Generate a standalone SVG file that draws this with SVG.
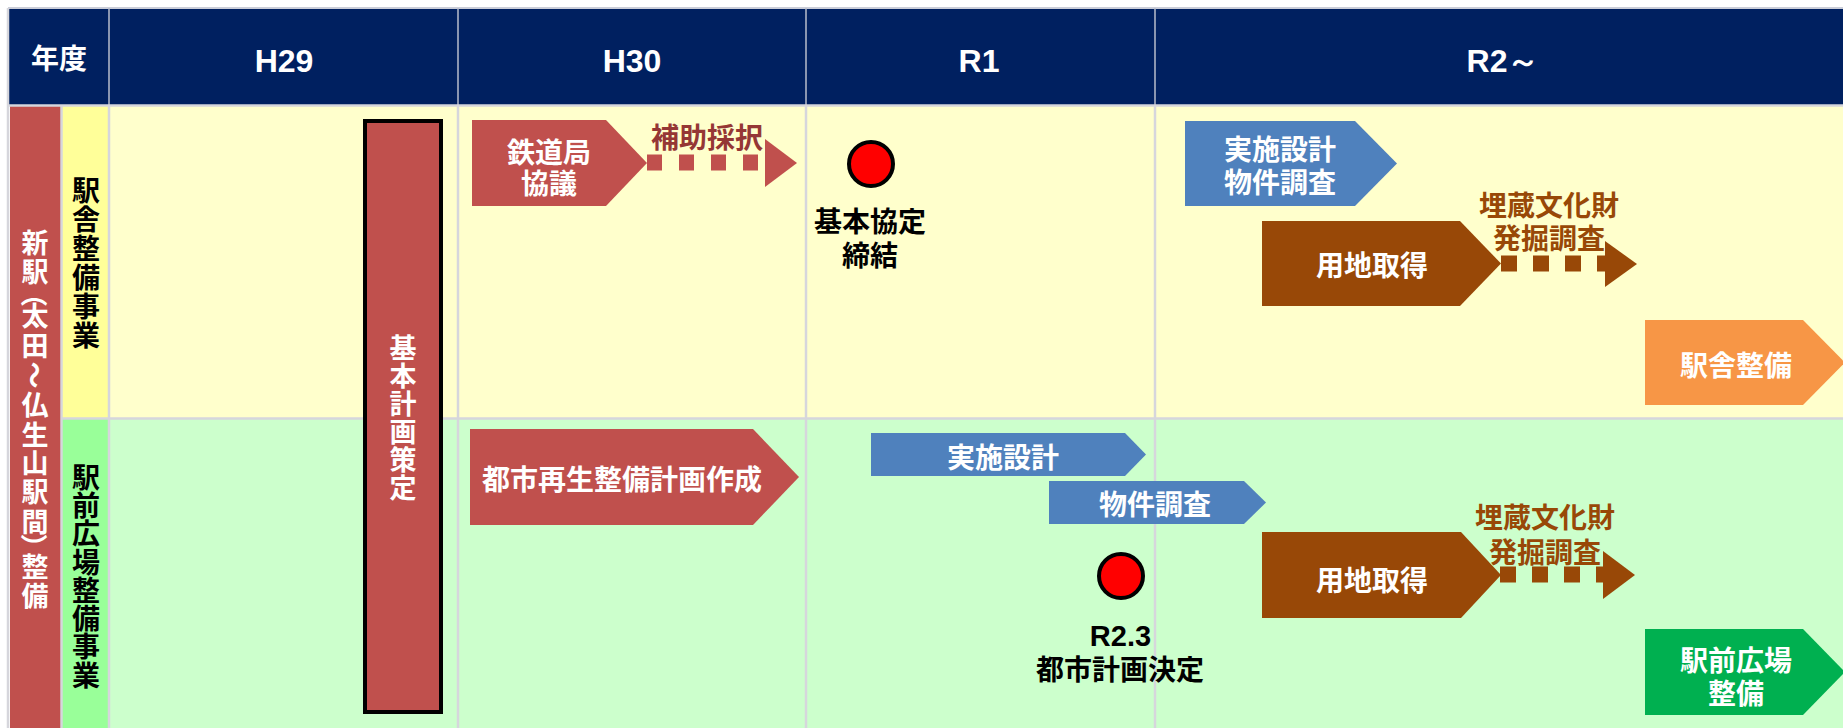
<svg xmlns="http://www.w3.org/2000/svg" width="1843" height="728" viewBox="0 0 1843 728">
<style>
.jp{font-family:"Noto Sans CJK JP","Noto Sans CJK SC",sans-serif;font-weight:bold;font-size:28px;text-anchor:middle}
.lat{font-family:"Liberation Sans",Arial,sans-serif;font-size:32px;font-weight:bold;text-anchor:middle;fill:#fff}
.vt{font-family:"Noto Sans CJK JP","Noto Sans CJK SC",sans-serif;font-weight:bold;writing-mode:vertical-rl}
.sw{text-orientation:sideways}
.w{fill:#fff}
.k{fill:#000}
.grid{stroke:#D6D6DC;stroke-width:2.5;fill:none}
.hgrid{stroke:#B8BCCB;stroke-width:1.5;fill:none}
.red{fill:#C0504D}
.blue{fill:#4F81BD}
.brown{fill:#984807}
.dot{fill:#FF0000;stroke:#000;stroke-width:4}
</style>
<rect x="0" y="0" width="1843" height="728" fill="#fff"/>
<!-- backgrounds -->
<g id="grid-bg">
<rect x="9" y="9" width="1834" height="96" fill="#002060"/>
<rect x="109" y="105" width="1734" height="313" fill="#FFFFCC"/>
<rect x="109" y="418" width="1734" height="310" fill="#CCFFCC"/>
<rect x="62" y="105" width="47" height="313" fill="#FFFF99"/>
<rect x="62" y="418" width="47" height="310" fill="#99FF99"/>
<rect x="10" y="105" width="51" height="623" fill="#C0504D"/>
<line class="hgrid" x1="8" y1="8" x2="1843" y2="8"/>
<line class="hgrid" x1="109" y1="8" x2="109" y2="105"/>
<line class="hgrid" x1="458" y1="8" x2="458" y2="105"/>
<line class="hgrid" x1="806" y1="8" x2="806" y2="105"/>
<line class="hgrid" x1="1155" y1="8" x2="1155" y2="105"/>
<line class="grid" x1="8" y1="8" x2="8" y2="728"/>
<line class="grid" x1="8" y1="105.5" x2="1843" y2="105.5"/>
<line class="grid" x1="61.5" y1="105" x2="61.5" y2="728"/>
<line class="grid" x1="109" y1="105" x2="109" y2="728"/>
<line class="grid" x1="458" y1="105" x2="458" y2="728"/>
<line class="grid" x1="806" y1="105" x2="806" y2="728"/>
<line class="grid" x1="1155" y1="105" x2="1155" y2="728"/>
<line class="grid" x1="62" y1="418.5" x2="1843" y2="418.5"/>
</g>
<!-- header -->
<g id="header">
<text class="jp w" x="59" y="68.5">年度</text>
<text class="lat" x="284" y="71.5">H29</text>
<text class="lat" x="632" y="71.5">H30</text>
<text class="lat" x="979" y="71.5">R1</text>
<text class="lat" x="1503" y="71.5">R2～</text>
</g>
<!-- row labels -->
<g id="label-main">
<text class="vt w" x="35" font-size="27"><tspan y="229.5">新</tspan><tspan y="258">駅</tspan><tspan class="sw" y="280">（</tspan><tspan y="302.5">太</tspan><tspan y="332">田</tspan><tspan class="sw" y="361.5">～</tspan><tspan y="391">仏</tspan><tspan y="421">生</tspan><tspan y="449.5">山</tspan><tspan y="478.5">駅</tspan><tspan y="508">間</tspan><tspan class="sw" y="533.5">）</tspan><tspan y="553.5">整</tspan><tspan y="582.5">備</tspan></text>
</g>
<g id="label-station">
<text class="vt k" x="86" font-size="28"><tspan y="176">駅</tspan><tspan y="205">舎</tspan><tspan y="234">整</tspan><tspan y="263.5">備</tspan><tspan y="292.5">事</tspan><tspan y="321.5">業</tspan></text>
</g>
<g id="label-plaza">
<text class="vt k" x="86" font-size="28"><tspan y="463">駅</tspan><tspan y="491.3">前</tspan><tspan y="519.6">広</tspan><tspan y="547.9">場</tspan><tspan y="576.2">整</tspan><tspan y="604.5">備</tspan><tspan y="632.8">事</tspan><tspan y="661.1">業</tspan></text>
</g>
<!-- basic plan -->
<g id="kihon-keikaku">
<rect x="365" y="121" width="76" height="591" fill="#C0504D" stroke="#000" stroke-width="4"/>
<text class="vt w" x="403" font-size="27"><tspan y="334.5">基</tspan><tspan y="362.5">本</tspan><tspan y="390.5">計</tspan><tspan y="418.5">画</tspan><tspan y="446.5">策</tspan><tspan y="474.5">定</tspan></text>
</g>
<!-- row 1 -->
<g id="tetsudo-kyogi">
<polygon class="red" points="472,120 606,120 647,163 606,206 472,206"/>
<text class="jp w"><tspan x="549" y="162.5">鉄道局</tspan><tspan x="549" y="193.5">協議</tspan></text>
</g>
<g id="hojo-label">
<text class="jp" x="707" y="147.5" fill="#953735">補助採択</text>
</g>
<g id="kihon-kyotei">
<circle class="dot" cx="871" cy="164" r="22"/>
<text class="jp k"><tspan x="870" y="232">基本協定</tspan><tspan x="870" y="266">締結</tspan></text>
</g>
<g id="jisshi-bukken-1">
<polygon class="blue" points="1185,121 1355,121 1397,163.5 1355,206 1185,206"/>
<text class="jp w"><tspan x="1280" y="160">実施設計</tspan><tspan x="1280" y="193">物件調査</tspan></text>
</g>
<g id="yochi-1">
<polygon class="brown" points="1262,221 1460,221 1501,263.5 1460,306 1262,306"/>
<text class="jp w" x="1372" y="276">用地取得</text>
</g>
<g id="maizo-label-1">
<text class="jp" fill="#984807"><tspan x="1549" y="216">埋蔵文化財</tspan><tspan x="1549" y="249">発掘調査</tspan></text>
</g>
<g id="ekisha-seibi">
<polygon points="1645,320 1803,320 1845,362.5 1803,405 1645,405" fill="#F79646"/>
<text class="jp w" x="1736" y="375.5">駅舎整備</text>
</g>
<!-- row 2 -->
<g id="toshi-saisei">
<polygon class="red" points="470,429 753,429 799,477 753,525 470,525"/>
<text class="jp w" x="622" y="489.5">都市再生整備計画作成</text>
</g>
<g id="jisshi-2">
<polygon class="blue" points="871,433 1125,433 1146,454.5 1125,476 871,476"/>
<text class="jp w" x="1003" y="467.5">実施設計</text>
</g>
<g id="bukken-2">
<polygon class="blue" points="1049,481 1244,481 1266,502.5 1244,524 1049,524"/>
<text class="jp w" x="1155" y="514.5">物件調査</text>
</g>
<g id="toshi-keikaku">
<circle class="dot" cx="1121" cy="576" r="22"/>
<text class="k" text-anchor="middle" font-size="29" font-weight="bold"><tspan x="1120.5" y="646" font-family="Liberation Sans, Arial, sans-serif">R2.3</tspan><tspan x="1120" y="679.5" font-family="Noto Sans CJK JP, Noto Sans CJK SC, sans-serif" font-size="28">都市計画決定</tspan></text>
</g>
<g id="yochi-2">
<polygon class="brown" points="1262,532 1461,532 1501,575 1461,618 1262,618"/>
<text class="jp w" x="1372" y="590.5">用地取得</text>
</g>
<g id="maizo-label-2">
<text class="jp" fill="#984807"><tspan x="1545" y="527.5">埋蔵文化財</tspan><tspan x="1545" y="562.5">発掘調査</tspan></text>
</g>
<g id="ekimae-seibi">
<polygon points="1645,629 1803,629 1845,672 1803,715 1645,715" fill="#00B050"/>
<text class="jp w"><tspan x="1736" y="670.5">駅前広場</tspan><tspan x="1736" y="703.5">整備</tspan></text>
</g>
<!-- connectors (dotted arrows) -->
<g id="connectors">
<line x1="647" y1="162.5" x2="760" y2="162.5" stroke="#C0504D" stroke-width="16" stroke-dasharray="15 17"/>
<polygon points="765,139 797,163 765,187" fill="#C0504D"/>
<line x1="1501" y1="263.5" x2="1610" y2="263.5" stroke="#984807" stroke-width="16" stroke-dasharray="16 16"/>
<polygon points="1605,241 1637,264 1605,287" fill="#984807"/>
<line x1="1500" y1="574.5" x2="1608" y2="574.5" stroke="#984807" stroke-width="16" stroke-dasharray="16 16"/>
<polygon points="1603,551 1635,575 1603,599" fill="#984807"/>
</g>
</svg>
